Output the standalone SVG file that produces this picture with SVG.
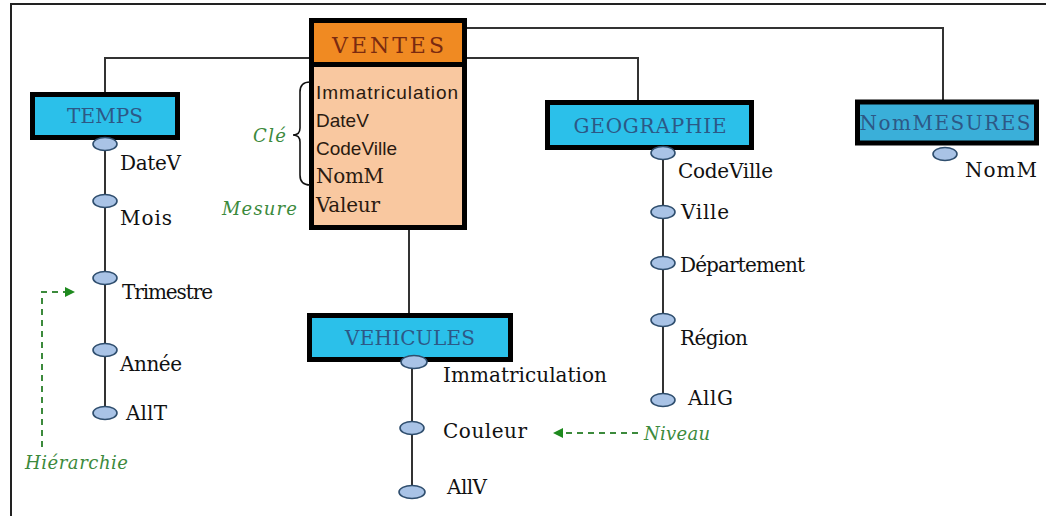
<svg xmlns="http://www.w3.org/2000/svg" width="1046" height="516" viewBox="0 0 1046 516">
<defs>
<style>
.frame{fill:none;stroke:#222;stroke-width:2}
.conn{fill:none;stroke:#333;stroke-width:2}
.dim{fill:#2BC0EA;stroke:#000;stroke-width:5}
.dimt{font-family:'DejaVu Serif','Liberation Serif',serif;font-size:20px;fill:#2D5886;text-anchor:middle}
.lvl{fill:#A9C3E6;stroke:#2F4E6E;stroke-width:1.6}
.lab{font-family:'DejaVu Serif','Liberation Serif',serif;font-size:20px;fill:#111}
.sans{font-family:'Liberation Sans',Arial,sans-serif;font-size:19px;fill:#2a1a10}
.note{font-family:'DejaVu Serif','Liberation Serif',serif;font-style:italic;font-size:18px;fill:#3C8A3C}
.dash{fill:none;stroke:#3C8A3C;stroke-width:2;stroke-dasharray:6,5}
</style>
<marker id="garrow" markerWidth="10" markerHeight="10" refX="9" refY="5" orient="auto" markerUnits="userSpaceOnUse" viewBox="0 0 10 10">
<path d="M0,0 L10,5 L0,10 z" fill="#1E8A1E"/>
</marker>
</defs>
<rect width="1046" height="516" fill="#fff"/>
<path class="frame" d="M11,516 L11,4 L1046,4"/>

<g id="connectors">
<path class="conn" d="M467,28 L943,28 L943,100"/>
<path class="conn" d="M105,93 L105,58 L638,58 L638,100"/>
<path class="conn" d="M409,230 L409,313"/>
<path class="conn" d="M105,140 L105,413"/>
<path class="conn" d="M663,150 L663,400"/>
<path class="conn" d="M412,362 L412,492"/>
</g>

<g id="VENTES">
<rect x="311.5" y="20.5" width="153" height="207" fill="#F9C8A0" stroke="#000" stroke-width="5"/>
<rect x="314" y="23" width="148" height="39" fill="#F08A22"/>
<line x1="311" y1="64.5" x2="465" y2="64.5" stroke="#000" stroke-width="5"/>
<text class="dimt" x="388" y="53" style="fill:#7A2A10;font-size:22px" textLength="112">VENTES</text>
<text class="sans" x="316" y="99" textLength="142">Immatriculation</text>
<text class="sans" x="316" y="127">DateV</text>
<text class="sans" x="316" y="155">CodeVille</text>
<text class="lab" x="316" y="183" style="fill:#2a1a10" textLength="68">NomM</text>
<text class="lab" x="316" y="212" style="fill:#2a1a10" textLength="64">Valeur</text>
</g>

<g id="TEMPS">
<rect class="dim" x="32.5" y="94.5" width="145" height="43"/>
<text class="dimt" x="105" y="123" textLength="76">TEMPS</text>
<ellipse class="lvl" cx="105" cy="144" rx="12" ry="6.5"/>
<ellipse class="lvl" cx="105" cy="201" rx="12" ry="6.5"/>
<ellipse class="lvl" cx="105" cy="278" rx="12" ry="6.5"/>
<ellipse class="lvl" cx="105" cy="350" rx="12" ry="6.5"/>
<ellipse class="lvl" cx="105" cy="413" rx="12" ry="6.5"/>
<text class="lab" x="120" y="170" textLength="61">DateV</text>
<text class="lab" x="120" y="225" textLength="52">Mois</text>
<text class="lab" x="122" y="299" textLength="91">Trimestre</text>
<text class="lab" x="120" y="371" textLength="62">Année</text>
<text class="lab" x="126" y="420" textLength="41">AllT</text>
</g>

<g id="GEOGRAPHIE">
<rect class="dim" x="547.5" y="102.5" width="204" height="45"/>
<text class="dimt" x="650" y="133" textLength="153">GEOGRAPHIE</text>
<ellipse class="lvl" cx="663" cy="153" rx="12" ry="6.5"/>
<ellipse class="lvl" cx="663" cy="212" rx="12" ry="6.5"/>
<ellipse class="lvl" cx="663" cy="263" rx="12" ry="6.5"/>
<ellipse class="lvl" cx="663" cy="320" rx="12" ry="6.5"/>
<ellipse class="lvl" cx="663" cy="400" rx="12" ry="6.5"/>
<text class="lab" x="678" y="178" textLength="95">CodeVille</text>
<text class="lab" x="681" y="219" textLength="48">Ville</text>
<text class="lab" x="680" y="272" textLength="125">Département</text>
<text class="lab" x="680" y="345" textLength="68">Région</text>
<text class="lab" x="688" y="405" textLength="45">AllG</text>
</g>

<g id="NomMESURES">
<rect x="857.5" y="102" width="179" height="41" fill="#3AAFD9" stroke="#000" stroke-width="5"/>
<text class="dimt" x="945" y="130" textLength="171">NomMESURES</text>
<ellipse class="lvl" cx="945" cy="154" rx="12" ry="6.5"/>
<text class="lab" x="965" y="177" textLength="72">NomM</text>
</g>

<g id="VEHICULES">
<rect class="dim" x="309.5" y="315.5" width="201" height="44"/>
<text class="dimt" x="410" y="345" textLength="130">VEHICULES</text>
<ellipse class="lvl" cx="414" cy="362" rx="13" ry="6.5"/>
<ellipse class="lvl" cx="412" cy="428" rx="12" ry="6.5"/>
<ellipse class="lvl" cx="412" cy="492" rx="13" ry="6.5"/>
<text class="lab" x="443" y="382" textLength="164">Immatriculation</text>
<text class="lab" x="443" y="438" textLength="84">Couleur</text>
<text class="lab" x="447" y="494" textLength="40">AllV</text>
</g>

<g id="annotations">
<path d="M310,82 Q300,82 300,92 L300,128 Q300,135 293,135 Q300,135 300,142 L300,175 Q300,185 310,185" fill="none" stroke="#111" stroke-width="1.6"/>
<text class="note" x="253" y="142" textLength="33">Clé</text>
<text class="note" x="222" y="215" textLength="75">Mesure</text>
<path class="dash" d="M42,447 L42,292 L74,292" marker-end="url(#garrow)"/>
<text class="note" x="25" y="469" textLength="103">Hiérarchie</text>
<path class="dash" d="M638,433 L554,433" marker-end="url(#garrow)"/>
<text class="note" x="644" y="440" textLength="66">Niveau</text>
</g>
</svg>
